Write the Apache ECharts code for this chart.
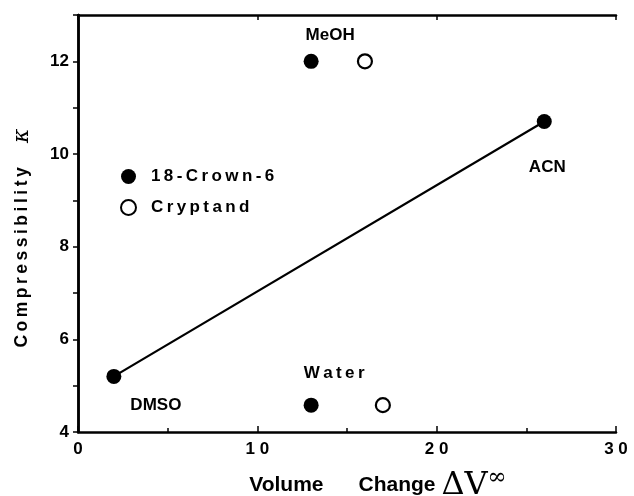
<!DOCTYPE html>
<html>
<head>
<meta charset="utf-8">
<script src="https://cdn.jsdelivr.net/npm/echarts@6/dist/echarts.min.js"></script>
<style>
  html, body { margin: 0; padding: 0; background: #fff; }
  #main { width: 634px; height: 496px; }
</style>
</head>
<body>
<div id="main"></div>
<script>
// 18-Crown-6 (filled) points
var crownNames = ['DMSO', 'Water', 'MeOH', 'ACN'];
var crownX = [2, 13, 13, 26];
var crownY = [5.2, 4.58, 12.0, 10.7];
// Cryptand (open) points
var cryptNames = ['Water', 'MeOH'];
var cryptX = [17, 16];
var cryptY = [4.58, 12.0];
// fitted line
var fitX = [2, 26];
var fitY = [5.2, 10.7];

var yTicks = [4, 6, 8, 10, 12];

var FONT = '"Liberation Sans", Arial, sans-serif';
var SERIF = '"DejaVu Serif", "Liberation Serif", serif';
var THIN = '\u2009';

// spread letters a little, like the scanned lettering
function spaced(s) {
  return s.split('').join(THIN);
}

// label offsets for the solvent names
var labelPos = {
  DMSO: { position: 'bottom', offset: [42, 8], text: 'DMSO' },
  Water: { position: 'top', offset: [23, -11], text: spaced('Water') },
  MeOH: { position: 'top', offset: [19, -5], text: 'MeOH' },
  ACN: { position: 'bottom', offset: [3, 25], text: 'ACN' }
};

var crownData = [];
for (var i = 0; i < crownX.length; i++) {
  var lp = labelPos[crownNames[i]];
  crownData.push({
    value: [crownX[i], crownY[i]],
    name: crownNames[i],
    label: {
      show: true,
      formatter: lp.text,
      position: lp.position,
      offset: lp.offset,
      color: '#000',
      fontFamily: FONT,
      fontWeight: 'bold',
      fontSize: 17
    }
  });
}
var cryptData = [];
for (var j = 0; j < cryptX.length; j++) {
  cryptData.push([cryptX[j], cryptY[j]]);
}
var fitData = [];
for (var k = 0; k < fitX.length; k++) {
  fitData.push([fitX[k], fitY[k]]);
}

var myChart = echarts.init(document.getElementById('main'));
var option = {
  backgroundColor: '#fff',
  animation: false,
  grid: { left: 78, right: 18, top: 15, bottom: 64, outerBoundsMode: 'none', containLabel: false },
  legend: {
    data: ['18-Crown-6', 'Cryptand'],
    orient: 'vertical',
    left: 115,
    top: 163,
    itemWidth: 15,
    itemHeight: 15,
    itemGap: 14,
    icon: 'circle',
    formatter: function (name) { return spaced(name); },
    textStyle: {
      color: '#000',
      fontFamily: FONT,
      fontWeight: 'bold',
      fontSize: 17,
      padding: [0, 0, 0, 10]
    }
  },
  xAxis: [{
    type: 'value',
    min: 0,
    max: 30,
    interval: 10,
    name: '{a|Volume      Change }{b|ΔV}{c|∞}',
    nameLocation: 'middle',
    nameGap: 35,
    nameTextStyle: {
      padding: [0, 0, 0, 62],
      rich: {
        a: { fontFamily: FONT, fontWeight: 'bold', fontSize: 21, color: '#000' },
        b: { fontFamily: SERIF, fontSize: 32, color: '#000' },
        c: { fontFamily: SERIF, fontSize: 23, color: '#000', verticalAlign: 'top', padding: [0, 0, 14, 0] }
      }
    },
    axisLine: { lineStyle: { color: '#000', width: 2.5 } },
    axisTick: { inside: true, length: 6, lineStyle: { color: '#000', width: 1.5 } },
    minorTick: { show: true, splitNumber: 2, length: 4, lineStyle: { color: '#000', width: 1.5 } },
    splitLine: { show: false },
    axisLabel: {
      margin: 9,
      color: '#000',
      fontFamily: FONT,
      fontWeight: 'bold',
      fontSize: 17,
      formatter: function (v) { return String(v).split('').join(' '); }
    }
  }, {
    type: 'value',
    position: 'top',
    min: 0,
    max: 30,
    interval: 10,
    axisLine: { lineStyle: { color: '#000', width: 2.5 } },
    axisTick: { inside: true, length: 5, lineStyle: { color: '#000', width: 1.5 } },
    axisLabel: { show: false },
    splitLine: { show: false }
  }],
  yAxis: [{
    type: 'value',
    min: 4,
    max: 13,
    interval: 2,
    name: '{a|' + spaced('Compressibility') + '     }{b|κ}{a|      }',
    nameLocation: 'middle',
    nameGap: 45,
    nameTextStyle: {
      rich: {
        a: { fontFamily: FONT, fontWeight: 'bold', fontSize: 17.5, color: '#000' },
        b: { fontFamily: SERIF, fontStyle: 'italic', fontSize: 22, color: '#000' }
      }
    },
    axisLine: { lineStyle: { color: '#000', width: 2.5 } },
    axisTick: { inside: false, length: 5, lineStyle: { color: '#000', width: 1.5 } },
    minorTick: { show: true, splitNumber: 2, length: 3, lineStyle: { color: '#000', width: 1.5 } },
    splitLine: { show: false },
    axisLabel: {
      margin: 9,
      color: '#000',
      fontFamily: FONT,
      fontWeight: 'bold',
      fontSize: 17,
      customValues: yTicks
    }
  }, {
    type: 'value',
    position: 'right',
    min: 4,
    max: 13,
    interval: 1,
    axisLine: { lineStyle: { color: '#000', width: 2.5 } },
    axisTick: { inside: true, length: 5, lineStyle: { color: '#000', width: 1.5 } },
    axisLabel: { show: false },
    splitLine: { show: false }
  }],
  series: [{
    name: 'fit',
    type: 'line',
    data: fitData,
    symbol: 'none',
    lineStyle: { color: '#000', width: 2.2 },
    z: 1
  }, {
    name: '18-Crown-6',
    type: 'scatter',
    data: crownData,
    symbol: 'circle',
    symbolSize: 15,
    itemStyle: { color: '#000', opacity: 1 },
    z: 3
  }, {
    name: 'Cryptand',
    type: 'scatter',
    data: cryptData,
    symbol: 'circle',
    symbolSize: 14,
    itemStyle: { color: '#fff', borderColor: '#000', borderWidth: 2.2, opacity: 1 },
    z: 3
  }]
};
myChart.setOption(option);
</script>
</body>
</html>
